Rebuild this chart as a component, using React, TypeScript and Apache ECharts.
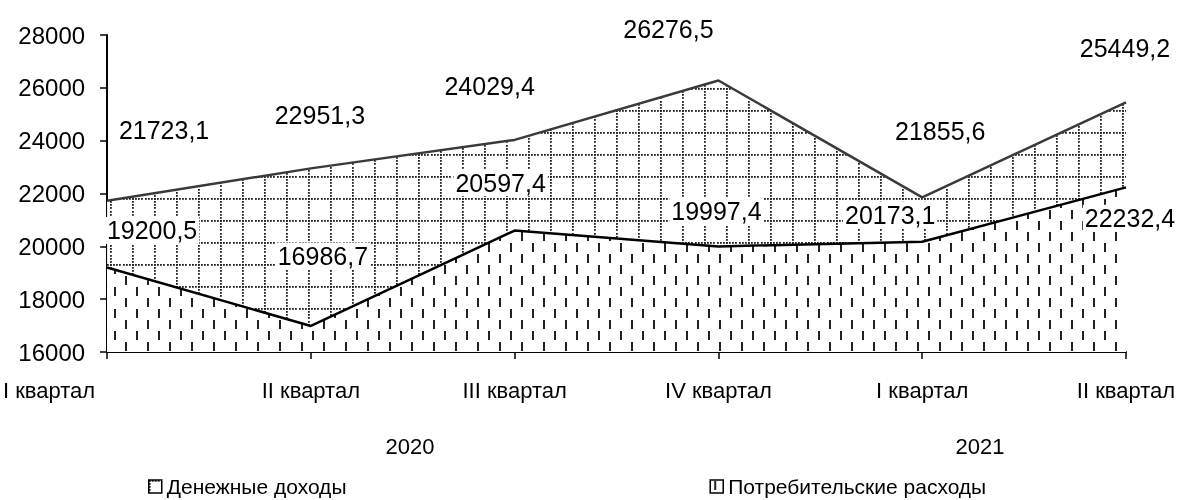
import React, { useEffect, useRef } from "react";
import * as echarts from "echarts";

const quarters = ["I квартал", "II квартал", "III квартал", "IV квартал", "I квартал", "II квартал"];
const years = ["2020", "2021"];
const seriesNames = ["Денежные доходы", "Потребительские расходы"];
const income = [21723.1, 22951.3, 24029.4, 26276.5, 21855.6, 25449.2];
const expenses = [19200.5, 16986.7, 20597.4, 19997.4, 20173.1, 22232.4];
const yMin = 16000;
const yMax = 28000;
const yStep = 2000;

// label offsets (pixels) relative to the data point
const incomeLabelOffsets = [[57, -71], [9, -53], [-25, -54], [-50, -52], [18, -66], [-1, -54]];
const expenseLabelOffsets = [[45, -37], [12, -70], [-14, -48], [-2, -35], [-32, -27], [4, 31]];

const FONT = "'Liberation Sans', Arial, sans-serif";

function fmt(v: number) {
  return v.toFixed(1).replace(".", ",");
}

function gridPattern() {
  const c = document.createElement("canvas");
  c.width = 22;
  c.height = 22;
  const ctx = c.getContext("2d")!;
  ctx.fillStyle = "#fff";
  ctx.fillRect(0, 0, 22, 22);
  ctx.fillStyle = "#222";
  for (let i = 0; i < 7; i++) {
    const p = Math.round(i * (22 / 7));
    ctx.fillRect(p, 0, 1.8, 1.8);
    ctx.fillRect(0, p, 1.8, 1.8);
  }
  return c;
}

function dashPattern() {
  const c = document.createElement("canvas");
  c.width = 22;
  c.height = 22;
  const ctx = c.getContext("2d")!;
  ctx.fillStyle = "#fff";
  ctx.fillRect(0, 0, 22, 22);
  ctx.fillStyle = "#222";
  ctx.fillRect(4, 1, 2, 9);
  ctx.fillRect(15, 12, 2, 9);
  return c;
}

export default function App() {
  const ref = useRef<HTMLDivElement>(null);
  useEffect(() => {
    if (!ref.current) return;
    const chart = echarts.init(ref.current, undefined, { renderer: "svg" });
    const gp = gridPattern();
    const dp = dashPattern();
    const labelBase = {
      show: true,
      position: "inside" as const,
      color: "#000",
      fontFamily: FONT,
      fontSize: 25,
      backgroundColor: "#fff",
      padding: [1, 2],
      formatter: (p: any) => fmt(p.value),
    };
    chart.setOption({
      animation: false,
      grid: { left: 103, right: 60, top: 35, bottom: 148, containLabel: false },
      legend: {
        left: 143,
        top: 471,
        itemGap: 363,
        itemWidth: 13,
        itemHeight: 13,
        itemTextGap: 3,
        icon: "rect",
        textStyle: { fontFamily: FONT, fontSize: 21, color: "#000" },
        data: [
          { name: seriesNames[0], itemStyle: { color: { image: gp, repeat: "repeat", imageWidth: 22, imageHeight: 22 }, borderColor: "#000", borderWidth: 1.5 } },
          { name: seriesNames[1], itemStyle: { color: { image: dp, repeat: "repeat", imageWidth: 22, imageHeight: 22 }, borderColor: "#000", borderWidth: 1.5 } },
        ],
      },
      xAxis: {
        type: "category",
        data: quarters,
        boundaryGap: false,
        axisLine: { lineStyle: { color: "#000", width: 2 } },
        axisTick: { show: true, length: 7, lineStyle: { color: "#000", width: 1.5 } },
        axisLabel: {
          color: "#000",
          fontFamily: FONT,
          fontSize: 22,
          margin: 27,
          interval: 0,
          formatter: (v: string, i: number) => (i === 0 ? "{first|" + v + "}" : v),
          rich: { first: { fontFamily: FONT, fontSize: 22, color: "#000", padding: [0, 116, 0, 0] } },
        },
        splitLine: { show: false },
      },
      yAxis: {
        type: "value",
        min: yMin,
        max: yMax,
        interval: yStep,
        axisLine: { show: true, lineStyle: { color: "#000", width: 2 } },
        axisTick: { show: true, length: 7, lineStyle: { color: "#000", width: 1.5 } },
        axisLabel: { color: "#000", fontFamily: FONT, fontSize: 24, margin: 22, formatter: (v: number) => String(v) },
        splitLine: { show: false },
      },
      graphic: [
        { type: "text", x: 410, y: 446, style: { text: years[0], fontFamily: FONT, fontSize: 22, fill: "#000", align: "center", verticalAlign: "middle" } },
        { type: "text", x: 980, y: 446, style: { text: years[1], fontFamily: FONT, fontSize: 22, fill: "#000", align: "center", verticalAlign: "middle" } },
      ],
      series: [
        {
          name: seriesNames[0],
          type: "line",
          z: 2,
          symbol: "circle",
          symbolSize: 1,
          showSymbol: true,
          itemStyle: { color: "rgba(0,0,0,0)" },
          lineStyle: { color: "#3a3a3a", width: 2.5 },
          areaStyle: { origin: "start", opacity: 1, color: { image: gp, repeat: "repeat", imageWidth: 22, imageHeight: 22 } },
          label: labelBase,
          data: income.map((v, i) => ({ value: v, label: { offset: incomeLabelOffsets[i] } })),
        },
        {
          name: seriesNames[1],
          type: "line",
          z: 3,
          symbol: "circle",
          symbolSize: 1,
          showSymbol: true,
          itemStyle: { color: "rgba(0,0,0,0)" },
          lineStyle: { color: "#000", width: 2.5 },
          areaStyle: { origin: "start", opacity: 1, color: { image: dp, repeat: "repeat", imageWidth: 22, imageHeight: 22 } },
          label: labelBase,
          data: expenses.map((v, i) => ({ value: v, label: { offset: expenseLabelOffsets[i] } })),
        },
      ],
    });
    return () => chart.dispose();
  }, []);
  return <div ref={ref} style={{ position: "fixed", left: 0, top: 0, width: 1186, height: 500 }} />;
}
